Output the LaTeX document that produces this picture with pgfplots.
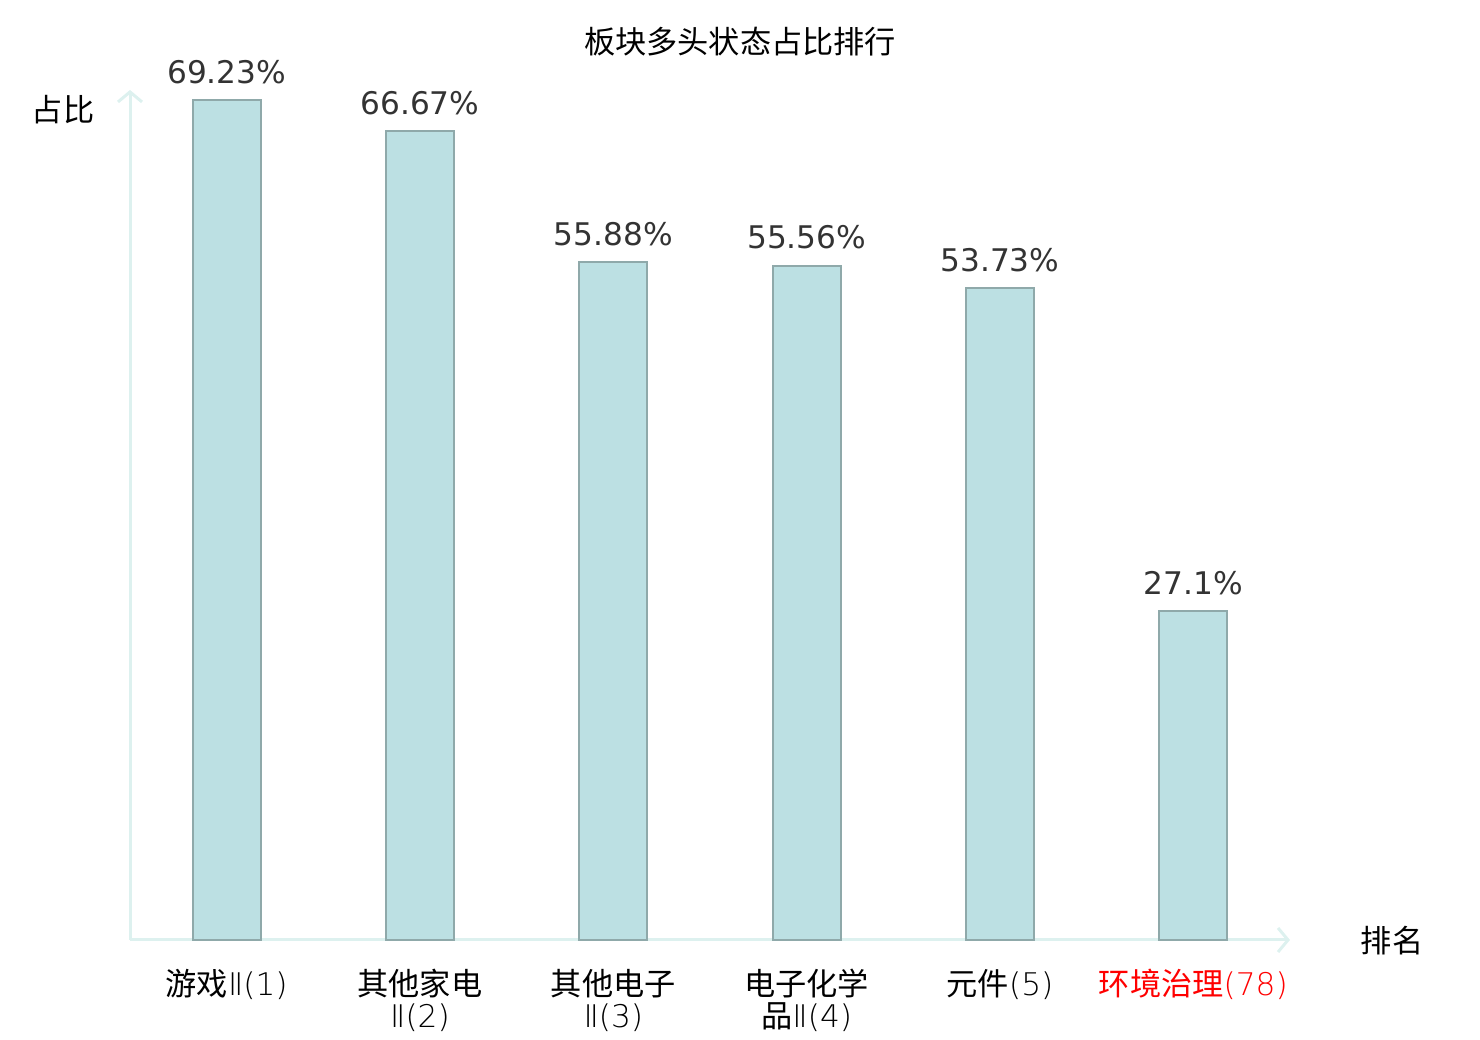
\documentclass[border=0pt]{standalone}
\usepackage{pgfplots}
\pgfplotsset{compat=1.18}
\usetikzlibrary{arrows.meta}
\usepackage{fontspec}
\setmainfont{DejaVu Sans}
\newfontfamily\cjk{Noto Sans CJK SC}
\IfFontExistsTF{DejaVu Sans ExtraLight}{\newfontfamily\thin{DejaVu Sans ExtraLight}}{\newfontfamily\thin{DejaVu Sans}}
\definecolor{barfill}{HTML}{BCE0E3}
\definecolor{baredge}{HTML}{8FA9AA}
\definecolor{axcol}{HTML}{DDF1EF}
\definecolor{lbl}{HTML}{333333}
\begin{document}
\begin{tikzpicture}[x=1pt,y=1pt]
\useasboundingbox (0,0) rectangle (740,520);
\begin{axis}[
  at={(65pt,50pt)}, anchor=south west,
  scale only axis, width=580pt, height=425pt,
  xmin=-0.5, xmax=5.5, ymin=0, ymax=70.07,
  axis lines=left,
  axis line style={draw=axcol, line width=1.5pt, -{Straight Barb[length=5pt,width=12pt,line width=1.5pt]}},
  ytick=\empty,
  xtick={0,1,2,3,4,5},
  major tick length=0pt,
  xticklabels={游戏{\thin Ⅱ(1)}, 其他家电\\{\thin Ⅱ(2)}, 其他电子\\{\thin Ⅱ(3)}, 电子化学\\品{\thin Ⅱ(4)}, 元件{\thin (5)}, {\color{red}环境治理{\thin (78)}}},
  xticklabel style={font=\cjk\fontsize{15.6}{16}\selectfont, align=center, anchor=north, yshift=-11pt, text=black},
  ybar, bar width=34pt,
  point meta=explicit symbolic,
  nodes near coords,
  every node near coord/.append style={font=\fontsize{15.6}{18}\selectfont, text=lbl, anchor=south, yshift=4.5pt},
  clip=false,
]
\addplot[fill=barfill, draw=baredge, line width=1pt] coordinates {
  (0,69.23) [69.23\%]
  (1,66.67) [66.67\%]
  (2,55.88) [55.88\%]
  (3,55.56) [55.56\%]
  (4,53.73) [53.73\%]
  (5,27.1) [27.1\%]
};
\end{axis}
\node[font=\cjk\fontsize{15.6}{18}\selectfont] at (370,499) {板块多头状态占比排行};
\node[font=\cjk\fontsize{15.6}{18}\selectfont] at (31.5,465) {占比};
\node[font=\cjk\fontsize{15.6}{18}\selectfont] at (696,49.5) {排名};
\end{tikzpicture}
\end{document}
